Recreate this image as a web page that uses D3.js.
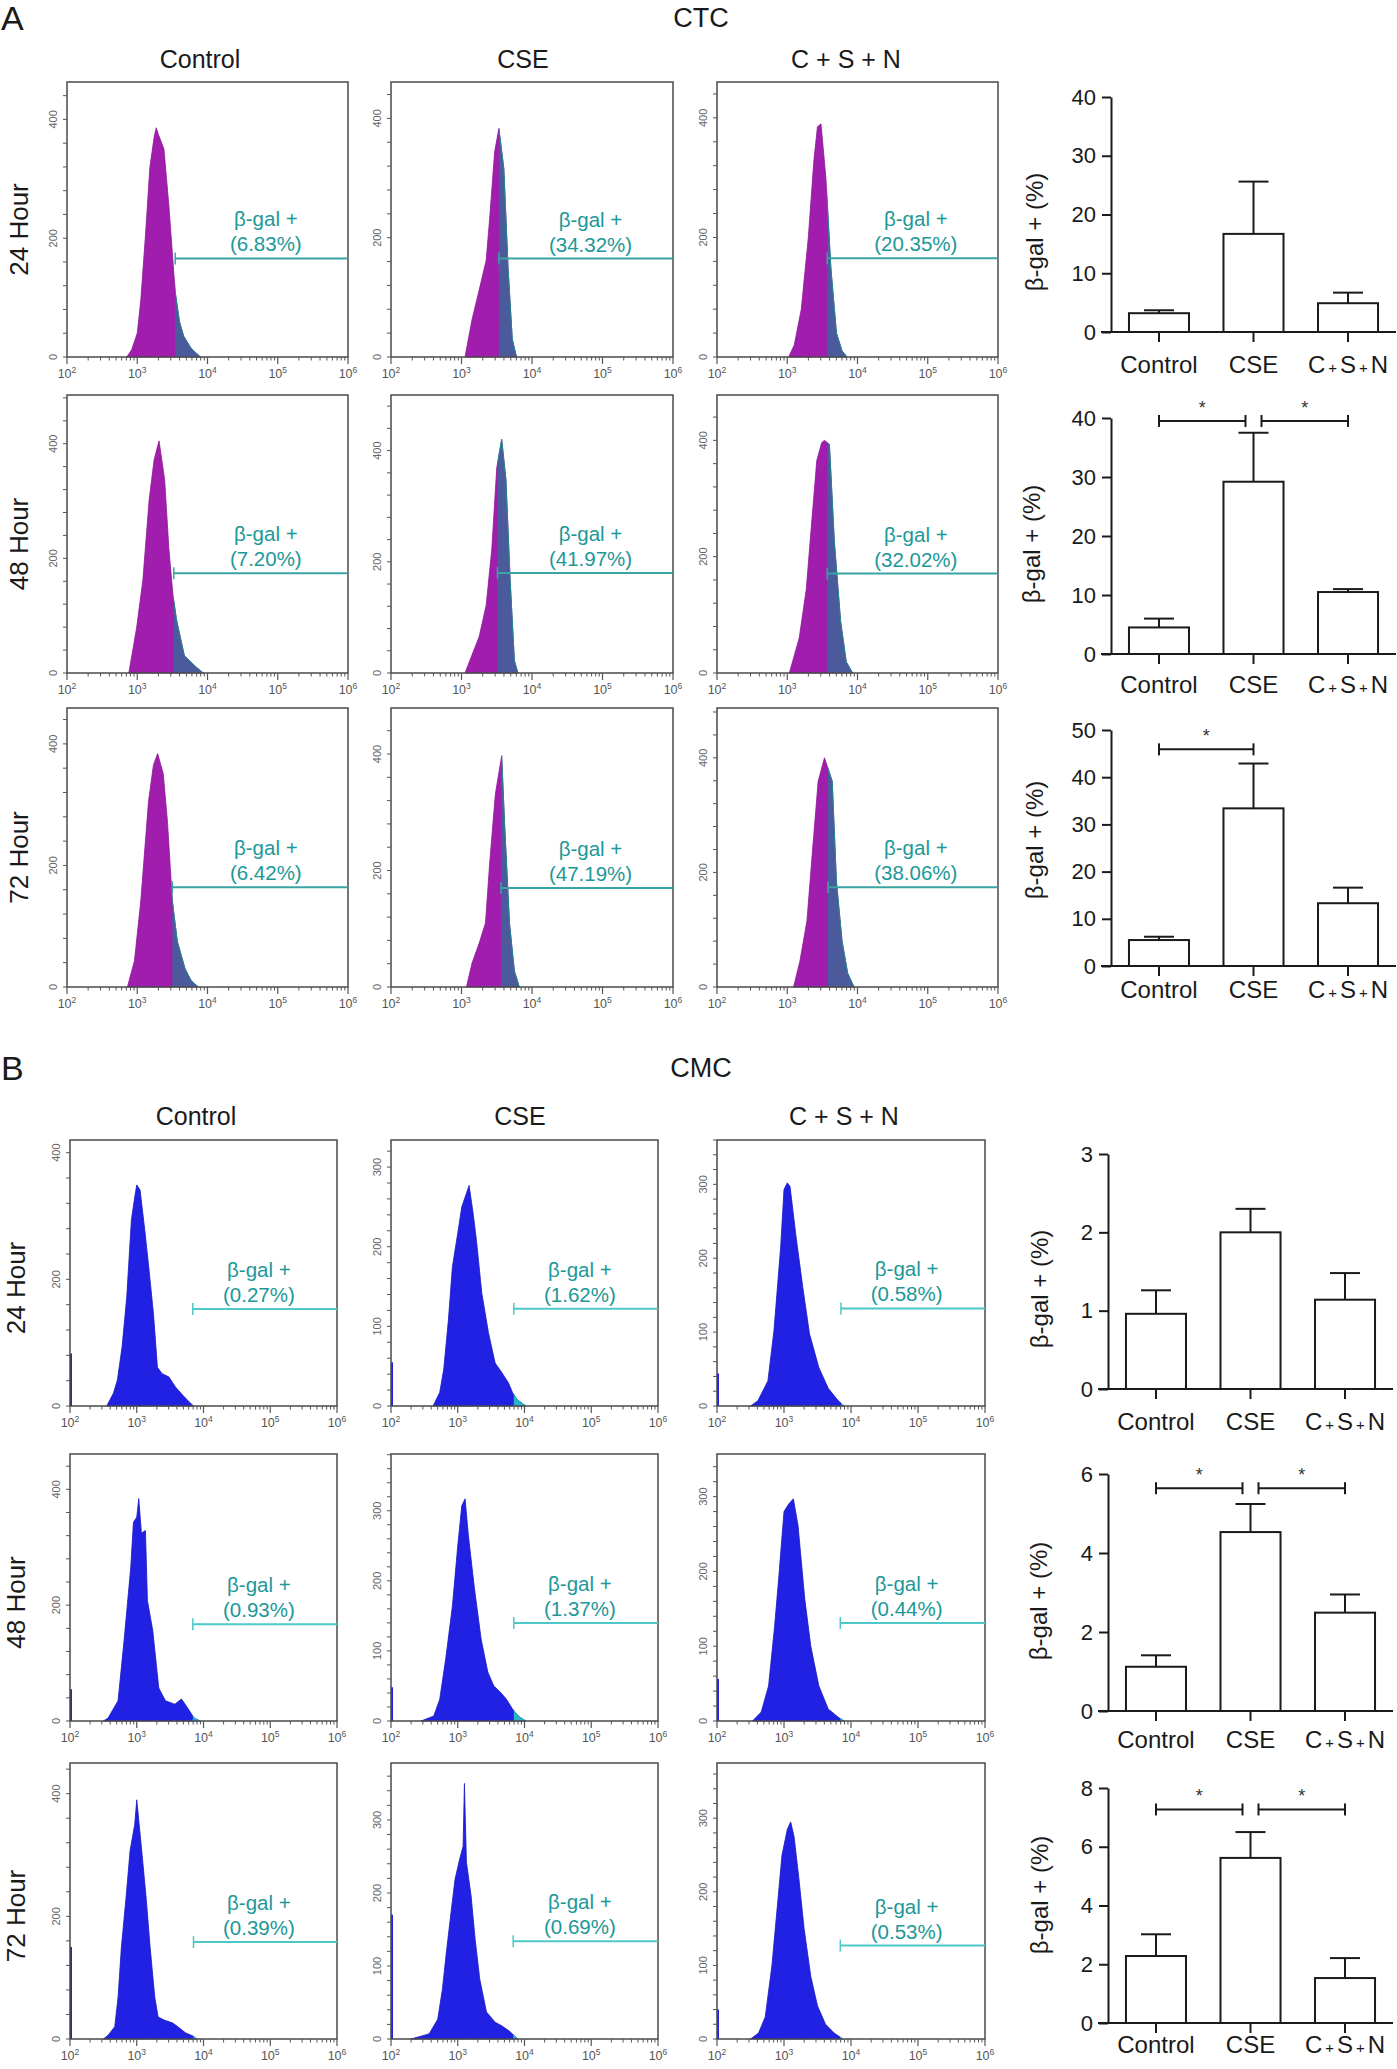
<!DOCTYPE html>
<html><head><meta charset="utf-8">
<script src="https://cdn.jsdelivr.net/npm/d3@7"></script>
<style>body{margin:0;background:#fff}svg{display:block}text{font-family:"Liberation Sans",Arial,Helvetica,sans-serif}</style>
</head><body><svg id="chart"></svg><script>
// ---------------- DATA ----------------
const conditions = ["Control", "CSE", "C + S + N"];
const timepoints = ["24 Hour", "48 Hour", "72 Hour"];
const barCategories = ["Control", "CSE", "C+S+N"];

// CTC flow histograms: [log10 fluorescence, count]
const ctc24Control = [[2.85,0],[2.92,12],[3.0,40],[3.05,95],[3.12,210],[3.18,320],[3.24,370],[3.27,386],[3.3,375],[3.38,350],[3.45,255],[3.54,110],[3.6,60],[3.66,35],[3.77,14],[3.9,0]];
const ctc24CSE = [[3.05,0],[3.15,63],[3.25,112],[3.35,162],[3.4,233],[3.47,344],[3.53,383],[3.6,316],[3.66,150],[3.72,30],[3.78,0]];
const ctc24CSN = [[3.02,0],[3.1,20],[3.2,80],[3.3,200],[3.38,330],[3.43,385],[3.48,390],[3.55,300],[3.62,150],[3.7,40],[3.78,10],[3.85,0]];
const ctc48Control = [[2.88,0],[2.99,78],[3.08,162],[3.17,303],[3.24,372],[3.31,405],[3.39,337],[3.45,217],[3.51,134],[3.56,92],[3.67,30],[3.85,9],[3.94,0]];
const ctc48CSE = [[3.05,0],[3.16,36],[3.25,65],[3.35,122],[3.43,223],[3.5,369],[3.57,420],[3.63,348],[3.69,166],[3.75,22],[3.8,0]];
const ctc48CSN = [[3.03,0],[3.17,60],[3.27,143],[3.35,262],[3.42,365],[3.49,396],[3.53,400],[3.6,393],[3.67,226],[3.76,88],[3.84,19],[3.93,0]];
const ctc72Control = [[2.86,0],[2.96,43],[3.05,141],[3.16,305],[3.23,365],[3.29,384],[3.37,351],[3.43,272],[3.5,141],[3.57,75],[3.68,30],[3.77,10],[3.87,0]];
const ctc72CSE = [[3.07,0],[3.15,41],[3.25,75],[3.34,110],[3.4,213],[3.48,331],[3.57,397],[3.61,282],[3.68,110],[3.75,27],[3.82,0]];
const ctc72CSN = [[3.09,0],[3.18,45],[3.28,115],[3.37,254],[3.44,359],[3.53,400],[3.64,359],[3.7,184],[3.78,80],[3.86,24],[3.95,0]];

// CMC flow histograms
const cmc24Control = [[2.55,0],[2.65,20],[2.71,41],[2.78,93],[2.85,172],[2.92,294],[2.97,330],[3.0,349],[3.05,341],[3.12,278],[3.18,219],[3.25,146],[3.31,61],[3.38,51],[3.48,46],[3.58,30],[3.69,17],[3.79,6],[3.85,0]];
const cmc24CSE = [[2.63,0],[2.73,17],[2.79,46],[2.86,108],[2.92,175],[3.0,217],[3.06,250],[3.13,267],[3.17,277],[3.23,242],[3.28,208],[3.36,142],[3.46,92],[3.56,54],[3.66,42],[3.76,29],[3.82,17],[3.89,8],[4.02,0]];
const cmc24CSN = [[2.5,0],[2.61,7],[2.76,34],[2.85,102],[2.95,215],[3.0,293],[3.05,302],[3.09,297],[3.18,229],[3.28,161],[3.38,98],[3.52,52],[3.66,24],[3.81,7],[3.9,0]];
const cmc48Control = [[2.5,0],[2.57,5],[2.72,35],[2.81,139],[2.91,265],[2.95,343],[3.0,352],[3.03,384],[3.07,324],[3.13,329],[3.16,208],[3.24,156],[3.33,57],[3.43,35],[3.57,29],[3.67,38],[3.76,23],[3.86,5],[3.95,0]];
const cmc48CSE = [[2.45,0],[2.64,7],[2.73,31],[2.82,89],[2.92,164],[3.0,250],[3.06,307],[3.11,317],[3.16,264],[3.25,189],[3.35,117],[3.45,70],[3.54,50],[3.64,41],[3.73,31],[3.82,17],[3.92,6],[4.02,0]];
const cmc48CSN = [[2.53,0],[2.66,12],[2.77,47],[2.86,127],[2.92,190],[3.0,280],[3.07,290],[3.14,297],[3.21,261],[3.31,163],[3.4,100],[3.52,47],[3.66,16],[3.81,5],[3.9,0]];
const cmc72Control = [[2.5,0],[2.57,6],[2.67,20],[2.72,68],[2.77,150],[2.84,231],[2.9,307],[2.97,350],[3.0,390],[3.07,312],[3.14,231],[3.2,150],[3.27,68],[3.32,36],[3.41,31],[3.54,26],[3.64,18],[3.73,10],[3.84,5],[3.9,0]];
const cmc72CSE = [[2.3,0],[2.57,7],[2.7,27],[2.77,68],[2.83,119],[2.9,174],[2.96,219],[3.03,247],[3.08,264],[3.1,350],[3.13,242],[3.2,196],[3.26,137],[3.33,82],[3.43,37],[3.56,23],[3.66,18],[3.77,11],[3.9,0]];
const cmc72CSN = [[2.5,0],[2.62,8],[2.72,30],[2.82,100],[2.9,180],[2.97,250],[3.05,285],[3.1,295],[3.15,275],[3.22,220],[3.3,150],[3.4,85],[3.5,45],[3.62,20],[3.75,8],[3.88,0]];

const ctcHistograms = [[ctc24Control, ctc24CSE, ctc24CSN],[ctc48Control, ctc48CSE, ctc48CSN],[ctc72Control, ctc72CSE, ctc72CSN]];
const cmcHistograms = [[cmc24Control, cmc24CSE, cmc24CSN],[cmc48Control, cmc48CSE, cmc48CSN],[cmc72Control, cmc72CSE, cmc72CSN]];

const ctcYMax = [[463,461,460],[485,500,478],[459,479,487]];
const ctcYLabels = [0, 200, 400];
const ctcGateLog = [[3.54,3.53,3.57],[3.52,3.51,3.57],[3.5,3.56,3.58]];
const ctcGateCount = [[166,165,165],[174,180,171],[164,170,174]];
const ctcPositive = [[6.83,34.32,20.35],[7.20,41.97,32.02],[6.42,47.19,38.06]];

const cmcYMax = [[420,334,360],[461,381,357],[450,378,375]];
const cmcYLabelsControl = [0, 200, 400];
const cmcYLabelsOther = [0, 100, 200, 300];
const cmcGateLog = [[3.84,3.84,3.85],[3.84,3.84,3.84],[3.85,3.83,3.84]];
const cmcGateCount = [[153,122,132],[167,140,131],[158,134,127]];
const cmcSpike = [[83,55,44],[55,48,56],[150,170,40]];
const cmcPositive = [[0.27,1.62,0.58],[0.93,1.37,0.44],[0.39,0.69,0.53]];

const xMajorTicks = [1e2, 1e3, 1e4, 1e5, 1e6];

// Bar charts: means and SEM
const ctcBarMeans = [[3.2,16.7,4.9],[4.5,29.2,10.5],[5.5,33.4,13.3]];
const ctcBarSEM = [[0.5,8.9,1.8],[1.5,8.3,0.5],[0.7,9.5,3.3]];
const ctcBarTicks = [[0,10,20,30,40],[0,10,20,30,40],[0,10,20,30,40,50]];
const ctcSig = [[],[[0,1,39.5],[1,2,39.5]],[[0,1,45.9]]];

const cmcBarMeans = [[0.96,2.0,1.14],[1.12,4.53,2.49],[2.28,5.62,1.53]];
const cmcBarSEM = [[0.30,0.30,0.34],[0.29,0.71,0.46],[0.74,0.88,0.68]];
const cmcBarTicks = [[0,1,2,3],[0,2,4,6],[0,2,4,6,8]];
const cmcSig = [[],[[0,1,5.64],[1,2,5.64]],[[0,1,7.27],[1,2,7.27]]];

// ---------------- DRAWING ----------------
const W = 1397, H = 2069;
const svg = d3.select("#chart").attr("width", W).attr("height", H);
let clipCounter = 0;

function label(g, x, y, s, size, opts = {}) {
  const t = g.append("text").attr("x", x).attr("y", y).attr("font-size", size)
    .attr("fill", opts.fill || "#1a1a1a").attr("text-anchor", opts.anchor || "middle").text(s);
  if (opts.rotate) t.attr("x", 0).attr("y", 0).attr("transform", `translate(${x},${y}) rotate(-90)`);
  return t;
}

function drawHist(g, bx, by, spec) {
  const [x0, x1] = bx, [y0, y1] = by;
  const xs = d3.scaleLog().domain([1e2, 1e6]).range([x0, x1]);
  const ys = d3.scaleLinear().domain([0, spec.yMax]).range([y1, y0]);
  const area = d3.area().x(d => xs(Math.pow(10, d[0]))).y0(y1).y1(d => ys(d[1]));
  g.append("path").datum(spec.profile).attr("d", area)
    .attr("fill", spec.fill).attr("stroke", spec.edge).attr("stroke-width", 0.8);
  const gx = xs(Math.pow(10, spec.gate));
  const id = "clip" + (clipCounter++);
  g.append("clipPath").attr("id", id).append("rect")
    .attr("x", gx).attr("y", y0).attr("width", x1 - gx).attr("height", y1 - y0);
  g.append("path").datum(spec.profile).attr("d", area).attr("clip-path", `url(#${id})`)
    .attr("fill", spec.gateFill).attr("stroke", spec.gateEdge).attr("stroke-width", 1);
  if (spec.spike) {
    g.append("line").attr("x1", x0 + 1).attr("x2", x0 + 1).attr("y1", y1).attr("y2", ys(spec.spike))
      .attr("stroke", spec.fill).attr("stroke-width", 2);
  }
  g.append("rect").attr("x", x0).attr("y", y0).attr("width", x1 - x0).attr("height", y1 - y0)
    .attr("fill", "none").attr("stroke", "#4a4a4a").attr("stroke-width", 1.5);
  const minors = [];
  for (let e = 2; e < 6; e++) for (let m = 2; m < 10; m++) minors.push(m * Math.pow(10, e));
  g.selectAll(null).data(minors).join("line")
    .attr("x1", d => xs(d)).attr("x2", d => xs(d)).attr("y1", y1).attr("y2", y1 + 3.5)
    .attr("stroke", "#555").attr("stroke-width", 1);
  g.selectAll(null).data(xMajorTicks).join("line")
    .attr("x1", d => xs(d)).attr("x2", d => xs(d)).attr("y1", y1).attr("y2", y1 + 7)
    .attr("stroke", "#555").attr("stroke-width", 1.2);
  xMajorTicks.forEach(v => {
    const t = g.append("text").attr("x", xs(v)).attr("y", y1 + 21).attr("text-anchor", "middle")
      .attr("font-size", 12.5).attr("fill", "#555");
    t.append("tspan").text("10");
    t.append("tspan").attr("dy", -5).attr("font-size", 8.5).text(Math.round(Math.log10(v)));
  });
  const yMinor = d3.range(0, spec.yMax + 0.1, spec.minorStep);
  g.selectAll(null).data(yMinor).join("line")
    .attr("x1", x0 - 4).attr("x2", x0).attr("y1", d => ys(d)).attr("y2", d => ys(d))
    .attr("stroke", "#555").attr("stroke-width", 1);
  spec.yLabels.forEach(v => {
    label(g, x0 - 10, ys(v), String(v), 11, { fill: "#666", rotate: true });
  });
  const gy = ys(spec.gateCount);
  g.append("line").attr("x1", gx).attr("x2", x1).attr("y1", gy).attr("y2", gy)
    .attr("stroke", spec.gateLine).attr("stroke-width", 2);
  g.append("line").attr("x1", gx).attr("x2", gx).attr("y1", gy - 6).attr("y2", gy + 6)
    .attr("stroke", spec.gateLine).attr("stroke-width", 1.5);
  const tx = xs(Math.pow(10, 4.83));
  label(g, tx, gy - 32, "β-gal +", 20.5, { fill: "#1c9898" });
  label(g, tx, gy - 7, "(" + spec.pct.toFixed(2) + "%)", 20.5, { fill: "#1c9898" });
}

function drawBar(g, x0, yTop, yBase, means, sems, ticks, sig, labelGap, yLabelX, yLabelY) {
  const xb = d3.scaleBand().domain(barCategories).range([x0, x0 + 285]).paddingInner(0.365).paddingOuter(0.19);
  const y = d3.scaleLinear().domain([0, d3.max(ticks)]).range([yBase, yTop]);
  const ax = g.append("g").attr("transform", `translate(${x0},0)`)
    .call(d3.axisLeft(y).tickValues(ticks).tickFormat(d3.format("d")).tickSize(9).tickSizeOuter(0).tickPadding(6));
  ax.select(".domain").attr("stroke", "#1a1a1a").attr("stroke-width", 2);
  ax.selectAll(".tick line").attr("stroke", "#1a1a1a").attr("stroke-width", 2);
  ax.selectAll(".tick text").attr("font-size", 22).attr("fill", "#1a1a1a")
    .attr("font-family", '"Liberation Sans",Arial,sans-serif');
  g.append("line").attr("x1", x0 - 10).attr("x2", x0 + 285).attr("y1", yBase).attr("y2", yBase)
    .attr("stroke", "#1a1a1a").attr("stroke-width", 2);
  const data = barCategories.map((c, i) => ({ c, v: means[i], e: sems[i] }));
  g.selectAll(null).data(data).join("rect")
    .attr("x", d => xb(d.c)).attr("width", xb.bandwidth())
    .attr("y", d => y(d.v)).attr("height", d => yBase - y(d.v))
    .attr("fill", "#fff").attr("stroke", "#1a1a1a").attr("stroke-width", 2);
  const cx = d => xb(d.c) + xb.bandwidth() / 2;
  g.selectAll(null).data(data).join("line")
    .attr("x1", cx).attr("x2", cx).attr("y1", d => y(d.v)).attr("y2", d => y(d.v + d.e))
    .attr("stroke", "#1a1a1a").attr("stroke-width", 2);
  g.selectAll(null).data(data).join("line")
    .attr("x1", d => cx(d) - 15).attr("x2", d => cx(d) + 15).attr("y1", d => y(d.v + d.e)).attr("y2", d => y(d.v + d.e))
    .attr("stroke", "#1a1a1a").attr("stroke-width", 2);
  g.selectAll(null).data(data).join("line")
    .attr("x1", cx).attr("x2", cx).attr("y1", yBase).attr("y2", yBase + 10)
    .attr("stroke", "#1a1a1a").attr("stroke-width", 2);
  data.forEach(d => {
    const t = g.append("text").attr("x", cx(d)).attr("y", yBase + labelGap)
      .attr("text-anchor", "middle").attr("font-size", 24).attr("fill", "#1a1a1a");
    if (d.c === "C+S+N") {
      t.append("tspan").text("C");
      t.append("tspan").attr("font-size", 15).attr("dx", 3).text("+");
      t.append("tspan").attr("dx", 3).text("S");
      t.append("tspan").attr("font-size", 15).attr("dx", 3).text("+");
      t.append("tspan").attr("dx", 3).text("N");
    } else t.text(d.c);
  });
  label(g, yLabelX, yLabelY, "β-gal + (%)", 24, { rotate: true });
  const centers = barCategories.map(c => xb(c) + xb.bandwidth() / 2);
  const shared = sig.length > 1;
  sig.forEach(([a, b, v]) => {
    let xa = centers[a], xb2 = centers[b];
    if (shared) { if (a === 1) xa += 8; if (b === 1) xb2 -= 8; }
    const yy = y(v);
    g.append("line").attr("x1", xa).attr("x2", xb2).attr("y1", yy).attr("y2", yy).attr("stroke", "#1a1a1a").attr("stroke-width", 2);
    [xa, xb2].forEach(xx => g.append("line").attr("x1", xx).attr("x2", xx).attr("y1", yy - 6).attr("y2", yy + 6)
      .attr("stroke", "#1a1a1a").attr("stroke-width", 2));
    label(g, (xa + xb2) / 2, yy - 7, "*", 18, { fill: "#333" });
  });
}

// ---- Section A (CTC) ----
const gA = svg.append("g");
label(gA, 1, 30, "A", 34, { anchor: "start" });
label(gA, 701, 27, "CTC", 27);
const colXA = [[67, 348], [391, 673], [717, 998]];
const rowYA = [[82, 357], [395, 673], [708, 987]];
const headXA = [200, 523, 846];
conditions.forEach((c, j) => label(gA, headXA[j], 68, c, 25));
timepoints.forEach((t, i) => {
  label(gA, 28, (rowYA[i][0] + rowYA[i][1]) / 2 + 10, t, 26, { rotate: true });
  conditions.forEach((c, j) => {
    drawHist(gA, colXA[j], rowYA[i], {
      profile: ctcHistograms[i][j], yMax: ctcYMax[i][j], yLabels: ctcYLabels, minorStep: 40,
      gate: ctcGateLog[i][j], gateCount: ctcGateCount[i][j], pct: ctcPositive[i][j],
      fill: "#a11dae", edge: "#8a1896", gateFill: "#4a5a9b", gateEdge: "#1f8a8f", gateLine: "#3aa3a3"
    });
  });
});
const barRowsA = [[97, 332, 41, 1043, 232], [418, 654, 39, 1040, 544], [730, 966, 32, 1043, 840]];
barRowsA.forEach(([yt, yb, lg, lx, ly], i) => drawBar(gA, 1111, yt, yb, ctcBarMeans[i], ctcBarSEM[i], ctcBarTicks[i], ctcSig[i], lg, lx, ly));

// ---- Section B (CMC) ----
const gB = svg.append("g");
label(gB, 1, 1080, "B", 34, { anchor: "start" });
label(gB, 701, 1077, "CMC", 27);
const colXB = [[70, 337], [391, 658], [717, 985]];
const rowYB = [[1140, 1406], [1454, 1721], [1763, 2039]];
const headXB = [196, 520, 844];
conditions.forEach((c, j) => label(gB, headXB[j], 1125, c, 25));
timepoints.forEach((t, i) => {
  label(gB, 25, (rowYB[i][0] + rowYB[i][1]) / 2 + 15, t, 26, { rotate: true });
  conditions.forEach((c, j) => {
    drawHist(gB, colXB[j], rowYB[i], {
      profile: cmcHistograms[i][j], yMax: cmcYMax[i][j],
      yLabels: j === 0 ? cmcYLabelsControl : cmcYLabelsOther, minorStep: j === 0 ? 40 : 20,
      gate: cmcGateLog[i][j], gateCount: cmcGateCount[i][j], pct: cmcPositive[i][j], spike: cmcSpike[i][j],
      fill: "#2121e4", edge: "#1818c0", gateFill: "#2bb4c4", gateEdge: "#2bb4c4", gateLine: "#4cc8c8"
    });
  });
});
const barRowsB = [[1154, 1389, 41, 1048, 1289], [1474, 1711, 37, 1047, 1601], [1788, 2023, 30, 1048, 1895]];
barRowsB.forEach(([yt, yb, lg, lx, ly], i) => drawBar(gB, 1108, yt, yb, cmcBarMeans[i], cmcBarSEM[i], cmcBarTicks[i], cmcSig[i], lg, lx, ly));
</script></body></html>
